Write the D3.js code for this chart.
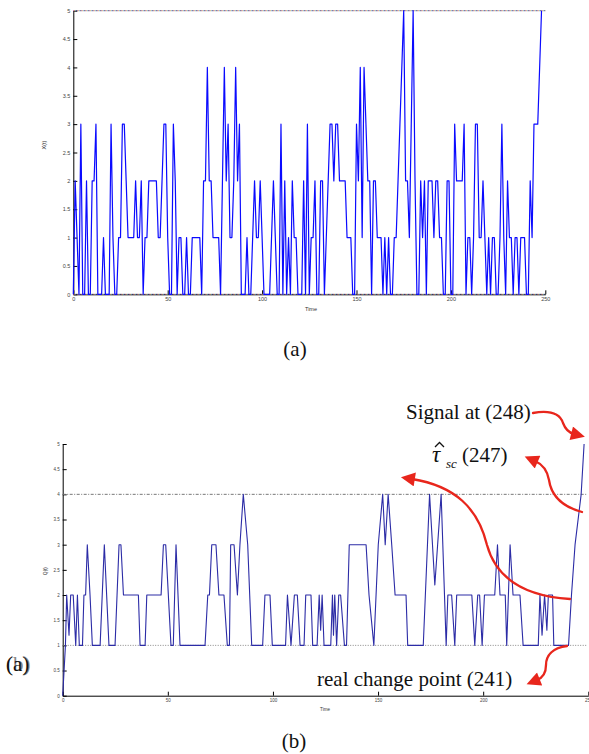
<!DOCTYPE html>
<html><head><meta charset="utf-8">
<script src="https://cdn.jsdelivr.net/npm/d3@7"></script>
<style>
html,body{margin:0;padding:0;background:#fff;}
svg{display:block;}
</style></head>
<body>
<svg id="fig" width="589" height="754"></svg>
<script>
// X(t): observed value at each time step t = 0..248
const xCounts = [
  0,2,1,0,3,0,0,2,0,0,
  2,2,3,0,0,0,1,0,0,0,
  3,1,0,0,1,1,3,3,2,1,
  1,1,1,2,1,1,2,0,1,1,
  2,2,2,2,2,1,1,2,3,3,
  1,0,0,3,2,0,1,1,0,0,
  1,0,0,1,1,1,1,1,0,2,
  2,4,2,2,1,1,1,1,0,2,
  4,2,3,1,1,2,4,2,3,0,
  0,0,1,0,0,1,2,1,1,2,
  1,0,0,0,0,1,2,1,0,0,
  3,0,2,0,1,0,2,1,1,0,
  0,0,2,0,3,0,1,1,2,0,
  0,2,2,0,1,2,3,3,2,3,
  3,2,2,2,2,1,1,1,0,0,
  3,2,4,1,4,3,2,2,0,2,
  2,1,1,1,0,1,0,1,0,0,
  1,1,2,3,4,5,2,2,1,3,
  5,2,0,0,2,1,2,0,2,2,
  2,1,2,2,1,1,0,0,2,2,
  0,0,3,2,2,2,2,3,0,1,
  1,0,1,3,3,1,1,2,1,0,
  1,0,1,1,0,0,1,3,1,0,
  2,1,1,0,1,1,0,1,1,1,
  0,0,2,1,3,3,3,4,5
];

// Q(t): monitoring statistic, given at its turning points
const qTimes = [
  0,1.3,1.9,3,3.8,5,6.2,7,7.9,9.4,
  10.1,10.9,11.7,13,14.1,17.8,19.8,22,24.9,26.8,
  27.7,28.9,36,36.8,39.2,40,46.8,47.9,49,51.5,
  52.6,53.9,55.8,67.7,69,69.8,70.9,72.9,74.3,76.7,
  78.3,79.3,79.9,81.5,83.1,84.3,85.9,88,89.9,95.1,
  96.2,98.6,99.7,106,106.9,108.6,110.2,111.6,112.9,114.8,
  115.6,118.1,118.9,121,122,122.7,123.4,124.3,127.5,128.3,
  128.8,129.4,130.3,131.3,132.2,134,135,136.3,144.3,145.7,
  148,150.1,152.2,153.4,154.8,156.5,158.1,163.3,164.1,171.5,
  174.5,177,180,182.4,183.2,185,186.5,187.4,194.6,196,
  197.4,198.3,199.5,200.6,205.5,206.8,208,210.5,211.2,212.8,
  214.2,217.5,219,226.2,227,228,229.2,230.3,231,233,
  233.6,240.6,242,243.7,246.6,248
];
const qValues = [
  0,1,2,1.2,2,2,1,2,1,1,
  2,2,3,2,1,1,3,1,1,3,
  3,2,2,1,1,2,2,3,3,1,
  1,3,1,1,2,2,3,3,2,2,
  1,1,3,3,2,3,4,3,1,1,
  2,2,1,1,2,1,2,2,1,1,
  2,2,1,1,2,1.3,2,1,1,2,
  1.2,2,1,2,2,1,1,3,3,2,
  1,3,4,3,4,3,2,2,1,1,
  4,2.2,4,1,2,2,1,2,2,1,
  2,2,1,2,2,3,2,2,1,3,
  2,2,1,1,2,1.2,2,1.3,2,2,
  1,1,2,3,4,5
];

const yTickValues = [0,0.5,1,1.5,2,2.5,3,3.5,4,4.5,5];
const timeTickValues = [0,50,100,150,200,250];
const qLimitLower = 1;
const qLimitUpper = 4;
const xLimits = [0, 5];

const svg = d3.select("#fig");

// ---------- panel (a): X(t) ----------
const xA = d3.scaleLinear().domain([0,250]).range([73.3,545.3]);
const yA = d3.scaleLinear().domain([0,5]).range([294.3,10.7]);

// dotted limit line made of interleaved coloured dots
function dottedMulti(g, x1, x2, y) {
  const cols = ["#d050c8","#c8b030","#4a88f0","#303030"];
  cols.forEach((c,i) => {
    g.append("line").attr("x1",x1).attr("x2",x2).attr("y1",y).attr("y2",y)
      .attr("stroke",c).attr("stroke-width",0.9)
      .attr("stroke-dasharray","1,3").attr("stroke-dashoffset",-i);
  });
}

function styleAxis(g, fs) {
  g.select(".domain").attr("stroke","#000").attr("stroke-width",1);
  g.selectAll(".tick line").attr("stroke","#000").attr("stroke-width",1);
  g.selectAll(".tick text").attr("font-family","Liberation Sans, Arial, sans-serif")
    .attr("font-size",fs).attr("fill","#444");
}

const gA = svg.append("g");
const axLA = gA.append("g").attr("transform",`translate(${xA(0)},0)`)
  .call(d3.axisLeft(yA).tickValues(yTickValues).tickSizeInner(-4).tickSizeOuter(0)
        .tickPadding(3).tickFormat(d3.format("")));
styleAxis(axLA, 5.5);
const axBA = gA.append("g").attr("transform",`translate(0,${yA(0)})`)
  .call(d3.axisBottom(xA).tickValues(timeTickValues).tickSizeInner(-4).tickSizeOuter(0)
        .tickPadding(3).tickFormat(d3.format("")));
styleAxis(axBA, 5.5);

xLimits.forEach(v => dottedMulti(gA, xA(0), xA(250), yA(v)));

const lineA = d3.line().x((d,i) => xA(i)).y(d => yA(d));
gA.append("path").datum(xCounts).attr("d",lineA)
  .attr("fill","none").attr("stroke","#0a0aff").attr("stroke-width",1.2)
  .attr("stroke-linejoin","round");

gA.append("text").attr("x",46).attr("y",145).attr("transform","rotate(-90,46,145)")
  .attr("text-anchor","middle").attr("font-family","Liberation Sans, Arial, sans-serif")
  .attr("font-size",5.5).attr("fill","#333").text("X(t)");
gA.append("text").attr("x",311).attr("y",311).attr("text-anchor","middle")
  .attr("font-family","Liberation Sans, Arial, sans-serif")
  .attr("font-size",5.5).attr("fill","#333").text("Time");

const serif = "Liberation Serif, Times New Roman, serif";
svg.append("text").attr("x",295).attr("y",356).attr("text-anchor","middle")
  .attr("font-family",serif).attr("font-size",21).attr("fill","#111").text("(a)");

// ---------- panel (b): Q(t) ----------
const xB = d3.scaleLinear().domain([0,250]).range([62.7,588.3]);
const yB = d3.scaleLinear().domain([0,5]).range([695.7,444]);

const gB = svg.append("g");
const axLB = gB.append("g").attr("transform",`translate(${xB(0)},0)`)
  .call(d3.axisLeft(yB).tickValues(yTickValues).tickSizeInner(-4).tickSizeOuter(0)
        .tickPadding(3).tickFormat(d3.format("")));
styleAxis(axLB, 4.5);
const axBB = gB.append("g").attr("transform",`translate(0,${yB(0)})`)
  .call(d3.axisBottom(xB).tickValues(timeTickValues).tickSizeInner(-4).tickSizeOuter(0)
        .tickPadding(3).tickFormat(d3.format("")));
styleAxis(axBB, 4.5);

// control limits
gB.append("line").attr("x1",xB(0)).attr("x2",xB(249)).attr("y1",yB(qLimitUpper)).attr("y2",yB(qLimitUpper))
  .attr("stroke","#777").attr("stroke-width",1).attr("stroke-dasharray","3,1.5,1,1.5");
gB.append("line").attr("x1",xB(0)).attr("x2",xB(249)).attr("y1",yB(qLimitLower)).attr("y2",yB(qLimitLower))
  .attr("stroke","#888").attr("stroke-width",1).attr("stroke-dasharray","1,1.5");

const qPts = qTimes.map((t,i) => [t, qValues[i]]);
const lineB = d3.line().x(d => xB(d[0])).y(d => yB(d[1]));
gB.append("path").datum(qPts).attr("d",lineB)
  .attr("fill","none").attr("stroke","#2c2ca6").attr("stroke-width",1.1)
  .attr("stroke-linejoin","round");

gB.append("text").attr("x",47).attr("y",571).attr("transform","rotate(-90,47,571)")
  .attr("text-anchor","middle").attr("font-family","Liberation Sans, Arial, sans-serif")
  .attr("font-size",4.5).attr("fill","#333").text("Q(t)");
gB.append("text").attr("x",325).attr("y",711).attr("text-anchor","middle")
  .attr("font-family","Liberation Sans, Arial, sans-serif")
  .attr("font-size",4.5).attr("fill","#333").text("Time");

svg.append("text").attr("x",294).attr("y",748).attr("text-anchor","middle")
  .attr("font-family",serif).attr("font-size",21).attr("fill","#111").text("(b)");

// overlapped side label
svg.append("text").attr("x",6).attr("y",671).attr("font-family",serif).attr("font-size",21)
  .attr("fill","#555").attr("opacity",0.7).text("(b)");
svg.append("text").attr("x",6).attr("y",671).attr("font-family",serif).attr("font-size",21)
  .attr("fill","#111").text("(a)");

// ---------- annotations ----------
const red = "#e8261c";
const defs = svg.append("defs");
defs.append("marker").attr("id","ah").attr("viewBox","0 0 10 10").attr("refX",2).attr("refY",5)
  .attr("markerWidth",16).attr("markerHeight",14).attr("markerUnits","userSpaceOnUse")
  .attr("orient","auto")
  .append("path").attr("d","M0,0 L10,5 L0,10 Z").attr("fill",red);

const ann = svg.append("g").attr("fill","none").attr("stroke",red).attr("stroke-width",2.3)
  .attr("stroke-linecap","round");
// signal arrow
ann.append("path").attr("d","M533,413 C550,410 560,414 563,423 C566,431 570,433 574,434")
  .attr("marker-end","url(#ah)");
// tau arrow
ann.append("path").attr("d","M582,512 C560,506 551,494 549,480 C547,469 542,464 535,461")
  .attr("marker-end","url(#ah)");
// big arrow to the upper limit
ann.append("path").attr("d","M570,599 C525,596 496,578 487,545 C478,508 455,486 412,479")
  .attr("marker-end","url(#ah)");
// change point arrow
ann.append("path").attr("d","M567,646 C552,648 546,656 546,665 C546,673 542,678 537,680")
  .attr("marker-end","url(#ah)");

svg.append("text").attr("x",406).attr("y",419).attr("font-family",serif).attr("font-size",21)
  .attr("fill","#111").text("Signal at (248)");
svg.append("text").attr("x",432).attr("y",462).attr("font-family",serif).attr("font-size",23)
  .attr("font-style","italic").attr("fill","#111").text("τ");
// hat over tau
svg.append("path").attr("d","M435,447 L439.5,442.5 L444,447")
  .attr("fill","none").attr("stroke","#111").attr("stroke-width",1.3);
svg.append("text").attr("x",446).attr("y",468).attr("font-family",serif).attr("font-size",13)
  .attr("font-style","italic").attr("fill","#111").text("sc");
svg.append("text").attr("x",462).attr("y",462).attr("font-family",serif).attr("font-size",21)
  .attr("fill","#111").text("(247)");
svg.append("text").attr("x",317).attr("y",686).attr("font-family",serif).attr("font-size",21)
  .attr("fill","#111").text("real change point (241)");
</script>
</body></html>
